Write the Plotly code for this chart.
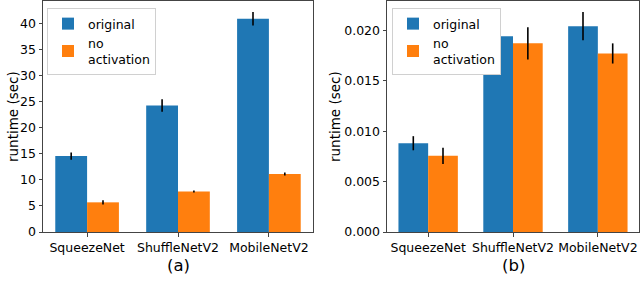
import plotly.graph_objects as go

categories = ["SqueezeNet", "ShuffleNetV2", "MobileNetV2"]

# (a) runtime in seconds
a_original = [14.6, 24.3, 41.0]
a_original_err = [0.7, 1.2, 1.3]
a_noact = [5.7, 7.8, 11.15]
a_noact_err = [0.4, 0.2, 0.3]

# (b) runtime in seconds
b_original = [0.0088, 0.0194, 0.0204]
b_original_err = [0.0007, 0.00145, 0.0014]
b_noact = [0.00755, 0.0187, 0.0177]
b_noact_err = [0.0008, 0.0016, 0.001]

a_ticks = [0, 5, 10, 15, 20, 25, 30, 35, 40]
b_ticks = [0.0, 0.005, 0.010, 0.015, 0.020]
b_ticktext = ["0.000", "0.005", "0.010", "0.015", "0.020"]

BLUE = "#1f77b4"
ORANGE = "#ff7f0e"
FONT = "DejaVu Sans"

fig = go.Figure()

def add_bars(xa, ya, vals, errs, color, name, legend, offset):
    fig.add_trace(go.Bar(
        x=categories, y=vals, name=name,
        xaxis=xa, yaxis=ya, legend=legend,
        offset=offset, width=0.35,
        marker=dict(color=color, line=dict(width=0)),
        error_y=dict(type="data", array=errs, color="black", thickness=1.6, width=0),
        hoverinfo="skip",
    ))

add_bars("x", "y", a_original, a_original_err, BLUE, "original", "legend", -0.35)
add_bars("x", "y", a_noact, a_noact_err, ORANGE, "no<br>activation", "legend", 0.0)
add_bars("x2", "y2", b_original, b_original_err, BLUE, "original", "legend2", -0.35)
add_bars("x2", "y2", b_noact, b_noact_err, ORANGE, "no<br>activation", "legend2", 0.0)

W, H = 640, 298
ybot = (H - 232) / H
ytop = (H - 1) / H
ymid = (H - 117) / H

axis_common = dict(
    showline=True, linecolor="#444", linewidth=1, mirror=True,
    ticks="outside", ticklen=3.5, tickwidth=1, tickcolor="#444",
    showgrid=False, zeroline=False, automargin=False,
    tickfont=dict(family=FONT, size=12.5, color="black"),
)

fig.update_layout(
    width=W, height=H, autosize=False,
    margin=dict(l=0, r=0, t=0, b=0, pad=0),
    paper_bgcolor="white", plot_bgcolor="white",
    barmode="overlay",
    font=dict(family=FONT, color="black"),
    xaxis=dict(domain=[43 / W, 313 / W], anchor="y", type="category",
               range=[-0.485, 2.485], **axis_common),
    yaxis=dict(domain=[ybot, ytop], anchor="x", range=[0, 44.4],
               tickvals=a_ticks, ticklabelstandoff=0, **axis_common),
    xaxis2=dict(domain=[387 / W, 639 / W], anchor="y2", type="category",
                range=[-0.485, 2.485], **axis_common),
    yaxis2=dict(domain=[ybot, ytop], anchor="x2", range=[0, 0.0229],
                tickvals=b_ticks, ticktext=b_ticktext, **axis_common),
    legend=dict(x=47 / W, y=(H - 8) / H, xanchor="left", yanchor="top",
                bgcolor="white", bordercolor="#d0d0d0", borderwidth=1,
                font=dict(family=FONT, size=12.5), tracegroupgap=2, itemwidth=30),
    legend2=dict(x=392 / W, y=(H - 8) / H, xanchor="left", yanchor="top",
                 bgcolor="white", bordercolor="#d0d0d0", borderwidth=1,
                 font=dict(family=FONT, size=12.5), tracegroupgap=2, itemwidth=30),
    annotations=[
        dict(text="runtime (sec)", x=13 / W, y=ymid, xref="paper", yref="paper",
             xanchor="center", yanchor="middle", textangle=-90,
             showarrow=False, font=dict(family=FONT, size=13.5)),
        dict(text="runtime (sec)", x=335 / W, y=ymid, xref="paper", yref="paper",
             xanchor="center", yanchor="middle", textangle=-90,
             showarrow=False, font=dict(family=FONT, size=13.5)),
        dict(text="(a)", x=178 / W, y=(H - 265) / H, xref="paper", yref="paper",
             xanchor="center", yanchor="middle",
             showarrow=False, font=dict(family=FONT, size=16.5)),
        dict(text="(b)", x=513 / W, y=(H - 265) / H, xref="paper", yref="paper",
             xanchor="center", yanchor="middle",
             showarrow=False, font=dict(family=FONT, size=16.5)),
        dict(text="Figure 1: Removal of all activation layers has negligible effect",
             x=0, y=(H - 293) / H, xref="paper", yref="paper", xanchor="left", yanchor="top",
             showarrow=False,
             font=dict(family="Liberation Serif", size=19, color="#222")),
    ],
)

fig.write_html("out.html",
               config={"displayModeBar": False, "staticPlot": True},
               post_script="document.body.style.margin='0';document.body.style.overflow='hidden';")
